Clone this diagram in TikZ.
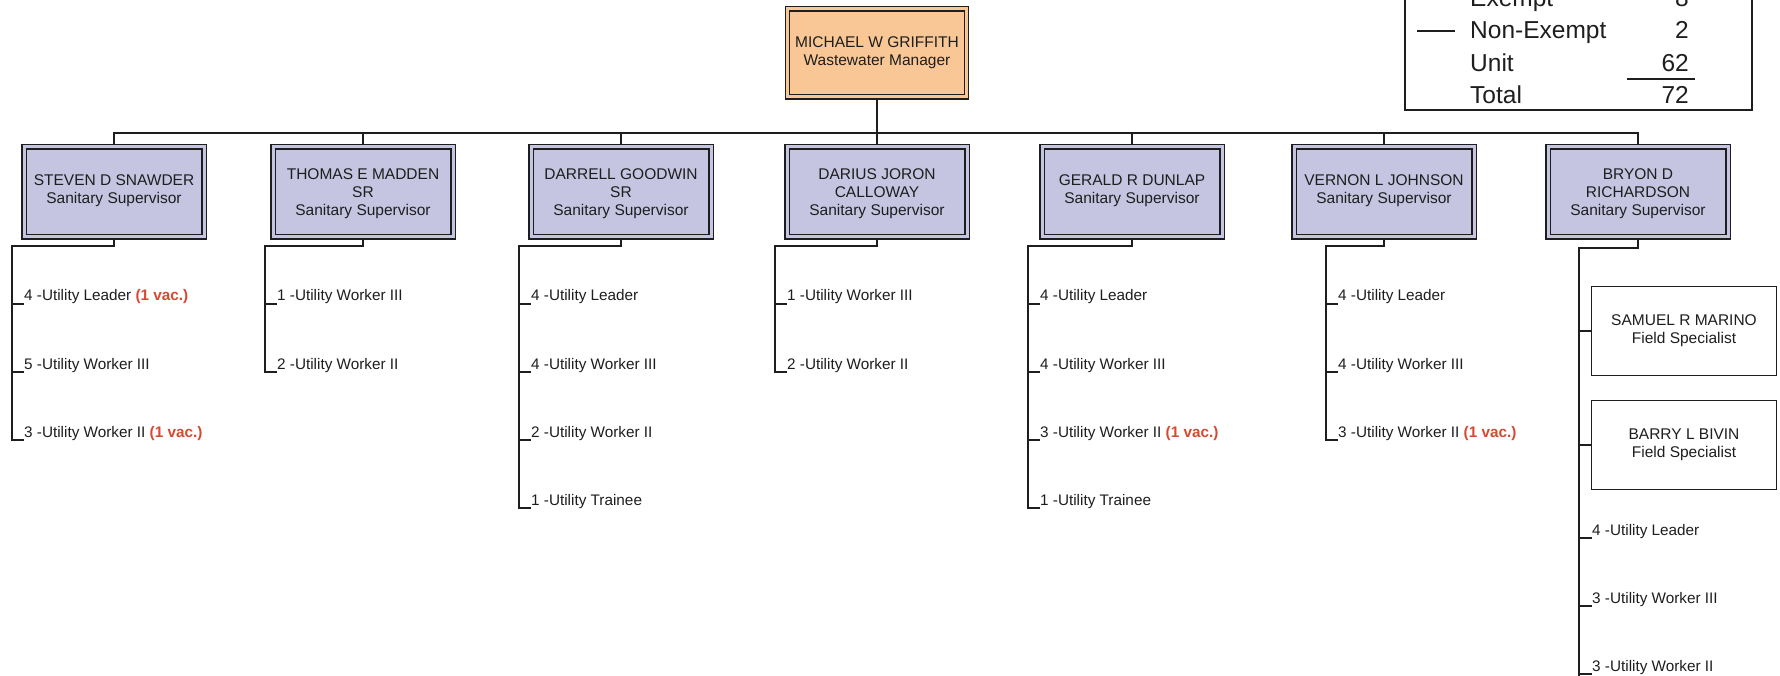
\documentclass[tikz,border=0pt]{standalone}
\usepackage{fontspec}
\setmainfont{Liberation Sans}
\usetikzlibrary{calc}
\pgfdeclarelayer{bg}
\pgfdeclarelayer{paper}
\pgfsetlayers{paper,bg,main}
\definecolor{mgrfill}{RGB}{249,199,149}
\definecolor{supfill}{RGB}{197,197,226}
\definecolor{vaccol}{RGB}{214,74,50}
\definecolor{ink}{RGB}{30,30,30}
\newcommand{\vacnote}[1]{\textcolor{vaccol}{\textbf{#1}}}
\begin{document}
\begin{tikzpicture}[x=1pt,y=-1pt,
 conn/.style={draw=ink,line width=1.8pt},
 boxtxt/.style={align=center,text=ink,font=\fontsize{15.5}{18}\selectfont,inner sep=0pt},
 mgrbox/.style={boxtxt,draw=ink,line width=1.1pt,double=mgrfill,double distance=3pt,fill=mgrfill,minimum width=179pt,minimum height=88pt},
 supbox/.style={boxtxt,draw=ink,line width=1.1pt,double=supfill,double distance=3pt,fill=supfill,minimum width=180pt,minimum height=90pt},
 twoline/.style={text depth=6pt},
 threeline/.style={text depth=0pt},
 fsbox/.style={boxtxt,draw=ink,line width=1.3pt,fill=white,minimum width=185pt,minimum height=89pt},
 item/.style={anchor=base west,inner sep=0pt,text=ink,font=\fontsize{15.3}{17}\selectfont},
 legtxt/.style={inner sep=0pt,text=ink,font=\fontsize{24.5}{28}\selectfont},
 legbox/.style={draw=ink,line width=1.5pt,fill=white,minimum width=347pt,minimum height=150pt,inner sep=0pt}
]
\useasboundingbox (0,0) rectangle (1780,676);
\clip (0,0) rectangle (1780,676);
\begin{pgfonlayer}{paper}
\fill[white] (0,0) rectangle (1780,676);
\end{pgfonlayer}

% manager
\node[mgrbox] (mgr) at (877,53) {MICHAEL W GRIFFITH\\Wastewater Manager};

% supervisors
\node[supbox,twoline] (s1) at (114,192) {STEVEN D SNAWDER\\Sanitary Supervisor};
\node[supbox,threeline] (s2) at (363,192) {THOMAS E MADDEN\\SR\\Sanitary Supervisor};
\node[supbox,threeline] (s3) at (621,192) {DARRELL GOODWIN\\SR\\Sanitary Supervisor};
\node[supbox,threeline] (s4) at (877,192) {DARIUS JORON\\CALLOWAY\\Sanitary Supervisor};
\node[supbox,twoline] (s5) at (1132,192) {GERALD R DUNLAP\\Sanitary Supervisor};
\node[supbox,twoline] (s6) at (1384,192) {VERNON L JOHNSON\\Sanitary Supervisor};
\node[supbox,threeline] (s7) at (1638,192) {BRYON D\\RICHARDSON\\Sanitary Supervisor};

\coordinate (bus) at (877,133);

% group 1
\coordinate (t1) at (12,246);
\node[item] (i1a) at (24,301) {4 -Utility Leader \vacnote{(1 vac.)}};
\node[item] (i1b) at (24,369) {5 -Utility Worker III};
\node[item] (i1c) at (24,437) {3 -Utility Worker II \vacnote{(1 vac.)}};
\coordinate (k1a) at (12,304); \coordinate (k1b) at (12,372); \coordinate (k1c) at (12,440);

% group 2
\coordinate (t2) at (265,246);
\node[item] (i2a) at (277,301) {1 -Utility Worker III};
\node[item] (i2b) at (277,369) {2 -Utility Worker II};
\coordinate (k2a) at (265,304); \coordinate (k2b) at (265,372);

% group 3
\coordinate (t3) at (519,246);
\node[item] (i3a) at (531,301) {4 -Utility Leader};
\node[item] (i3b) at (531,369) {4 -Utility Worker III};
\node[item] (i3c) at (531,437) {2 -Utility Worker II};
\node[item] (i3d) at (531,505) {1 -Utility Trainee};
\coordinate (k3a) at (519,304); \coordinate (k3b) at (519,372); \coordinate (k3c) at (519,440); \coordinate (k3d) at (519,508);

% group 4
\coordinate (t4) at (775,246);
\node[item] (i4a) at (787,301) {1 -Utility Worker III};
\node[item] (i4b) at (787,369) {2 -Utility Worker II};
\coordinate (k4a) at (775,304); \coordinate (k4b) at (775,372);

% group 5
\coordinate (t5) at (1028,246);
\node[item] (i5a) at (1040,301) {4 -Utility Leader};
\node[item] (i5b) at (1040,369) {4 -Utility Worker III};
\node[item] (i5c) at (1040,437) {3 -Utility Worker II \vacnote{(1 vac.)}};
\node[item] (i5d) at (1040,505) {1 -Utility Trainee};
\coordinate (k5a) at (1028,304); \coordinate (k5b) at (1028,372); \coordinate (k5c) at (1028,440); \coordinate (k5d) at (1028,508);

% group 6
\coordinate (t6) at (1326,246);
\node[item] (i6a) at (1338,301) {4 -Utility Leader};
\node[item] (i6b) at (1338,369) {4 -Utility Worker III};
\node[item] (i6c) at (1338,437) {3 -Utility Worker II \vacnote{(1 vac.)}};
\coordinate (k6a) at (1326,304); \coordinate (k6b) at (1326,372); \coordinate (k6c) at (1326,440);

% group 7
\coordinate (t7) at (1579,248);
\node[fsbox] (f1) at (1684,331) {SAMUEL R MARINO\\Field Specialist};
\node[fsbox] (f2) at (1684,445) {BARRY L BIVIN\\Field Specialist};
\node[item] (i7a) at (1592,535) {4 -Utility Leader};
\node[item] (i7b) at (1592,603) {3 -Utility Worker III};
\node[item] (i7c) at (1592,671) {3 -Utility Worker II};
\coordinate (k7a) at (1579,538); \coordinate (k7b) at (1579,606); \coordinate (k7c) at (1579,674);
\coordinate (k7end) at (1579,680);

% legend
\node[legbox] (leg) at (1578.5,35) {};
\node[legtxt,anchor=base west] (l1) at (1470,6.5) {Exempt};
\node[legtxt,anchor=base east] (n1) at (1689,6.5) {8};
\node[legtxt,anchor=base west] (l2) at (1470,39) {Non-Exempt};
\node[legtxt,anchor=base east] (n2) at (1689,39) {2};
\node[legtxt,anchor=base west] (l3) at (1470,71.5) {Unit};
\node[legtxt,anchor=base east] (n3) at (1689,71.5) {62};
\node[legtxt,anchor=base west] (l4) at (1470,104) {Total};
\node[legtxt,anchor=base east] (n4) at (1689,104) {72};
\coordinate (d1) at (1417,31); \coordinate (d2) at (1455,31);
\draw[ink,line width=1.5pt] (d1) -- (d2);
\coordinate (u1) at (1627,79); \coordinate (u2) at (1695,79);
\draw[ink,line width=1.5pt] (u1) -- (u2);

\begin{pgfonlayer}{bg}
 \draw[conn] (s1.north) |- (bus) -| (s7.north);
 \draw[conn] (mgr.south) -- (s4.north);
 \foreach \s in {s2,s3,s5,s6} { \draw[conn] (\s.north) -- (\s.north |- bus); }
 % group lines
 \draw[conn] (s1.south) |- (t1) -- (k1c) -- (k1c -| i1c.west);
 \draw[conn] (k1a) -- (k1a -| i1a.west);
 \draw[conn] (k1b) -- (k1b -| i1b.west);
 \draw[conn] (s2.south) |- (t2) -- (k2b) -- (k2b -| i2b.west);
 \draw[conn] (k2a) -- (k2a -| i2a.west);
 \draw[conn] (s3.south) |- (t3) -- (k3d) -- (k3d -| i3d.west);
 \draw[conn] (k3a) -- (k3a -| i3a.west);
 \draw[conn] (k3b) -- (k3b -| i3b.west);
 \draw[conn] (k3c) -- (k3c -| i3c.west);
 \draw[conn] (s4.south) |- (t4) -- (k4b) -- (k4b -| i4b.west);
 \draw[conn] (k4a) -- (k4a -| i4a.west);
 \draw[conn] (s5.south) |- (t5) -- (k5d) -- (k5d -| i5d.west);
 \draw[conn] (k5a) -- (k5a -| i5a.west);
 \draw[conn] (k5b) -- (k5b -| i5b.west);
 \draw[conn] (k5c) -- (k5c -| i5c.west);
 \draw[conn] (s6.south) |- (t6) -- (k6c) -- (k6c -| i6c.west);
 \draw[conn] (k6a) -- (k6a -| i6a.west);
 \draw[conn] (k6b) -- (k6b -| i6b.west);
 \draw[conn] (s7.south) |- (t7) -- (k7end);
 \draw[conn] (f1.west -| t7) -- (f1.west);
 \draw[conn] (f2.west -| t7) -- (f2.west);
 \draw[conn] (k7a) -- (k7a -| i7a.west);
 \draw[conn] (k7b) -- (k7b -| i7b.west);
 \draw[conn] (k7c) -- (k7c -| i7c.west);
\end{pgfonlayer}
\end{tikzpicture}
\end{document}
